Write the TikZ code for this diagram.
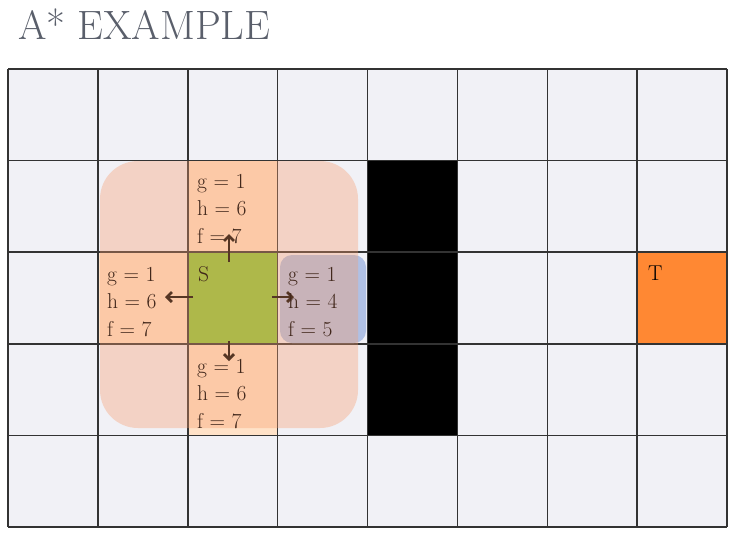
\documentclass[tikz,border=0pt]{standalone}
\usetikzlibrary{arrows.meta}
\definecolor{cellgrey}{HTML}{F1F1F6}
\definecolor{gridc}{HTML}{333333}
\definecolor{nbfill}{HTML}{FFE2C8}
\definecolor{sfill}{HTML}{87C839}
\definecolor{tfill}{HTML}{FF8833}
\definecolor{bluec}{HTML}{B0C0E4}
\definecolor{peachc}{HTML}{F79B6A}
\definecolor{titlec}{HTML}{5A5F6B}
\definecolor{browntext}{HTML}{40261A}
\begin{document}
\begin{tikzpicture}[x=1pt,y=-1pt,
  cell/.style={fill=cellgrey, draw=none, anchor=north west, inner sep=0pt, outer sep=0pt,
    minimum width=89.875pt, minimum height=91.6pt},
  gridline/.style={draw=gridc, line width=1.5pt},
  info/.style={anchor=base west, align=left, inner sep=0pt, text=browntext,
    font=\fontsize{21.5}{27.5}\selectfont},
  letterlbl/.style={anchor=base west, inner sep=0pt, text=black, font=\fontsize{21.5}{27.5}\selectfont},
  title/.style={anchor=base west, inner sep=0pt, text=titlec, font=\fontsize{41}{44}\selectfont},
  move/.style={draw=black, line width=2.8pt, -{Straight Barb[length=5pt,width=10pt]}},
  glow/.style={fill=peachc, fill opacity=0.35, rounded corners=38pt},
  bluebox/.style={fill=bluec, rounded corners=12pt}
]
\useasboundingbox (0,0) rectangle (730,533);
\fill[white] (0,0) rectangle (730,533);
\node[title] (title) at (18,39) {A* EXAMPLE};
% cells
\foreach \i in {0,...,7}{
  \foreach \j in {0,...,4}{
    \node[cell] (c-\i-\j) at ({8+89.875*\i},{69+91.6*\j}) {};
  }
}
% special fills
\fill[nbfill] (c-2-1.north west) rectangle (c-2-1.south east);
\fill[nbfill] (c-1-2.north west) rectangle (c-1-2.south east);
\fill[nbfill] (c-2-3.north west) rectangle (c-2-3.south east);
\fill[sfill] (c-2-2.north west) rectangle (c-2-2.south east);
\fill[tfill] (c-7-2.north west) rectangle (c-7-2.south east);
\fill[black] (c-4-1.north west) rectangle (c-4-3.south east);
% grid lines
\foreach \i in {0,...,7}{
  \draw[gridline] (c-\i-0.north west) -- (c-\i-4.south west);
}
\draw[gridline] (c-7-0.north east) -- (c-7-4.south east);
\foreach \j in {0,...,4}{
  \draw[gridline] (c-0-\j.north west) -- (c-7-\j.north east);
}
\draw[gridline] (c-0-4.south west) -- (c-7-4.south east);
% blue highlight
\fill[bluebox] (280,255) rectangle (366,343);
% arrows
\coordinate (u0) at (229,262); \coordinate (u1) at (229,234);
\coordinate (l0) at (193,297); \coordinate (l1) at (165,297);
\coordinate (r0) at (272,297); \coordinate (r1) at (294,297);
\coordinate (d0) at (229,341); \coordinate (d1) at (229,361);
\draw[move] (u0) -- (u1);
\draw[move] (l0) -- (l1);
\draw[move] (r0) -- (r1);
\draw[move] (d0) -- (d1);
% peach overlay
\fill[glow] (100,161) rectangle (358,428);
% texts (base anchor = baseline of the last line)
\node[info] (top) at (197,243) {g = 1\\h = 6\\f = 7};
\node[info] (left) at (107,336) {g = 1\\h = 6\\f = 7};
\node[info] (right) at (288,336) {g = 1\\h = 4\\f = 5};
\node[info] (bottom) at (197,428) {g = 1\\h = 6\\f = 7};
\node[letterlbl, text=browntext] (S) at (198,281) {S};
\node[letterlbl] (T) at (648,280) {T};
\end{tikzpicture}
\end{document}
